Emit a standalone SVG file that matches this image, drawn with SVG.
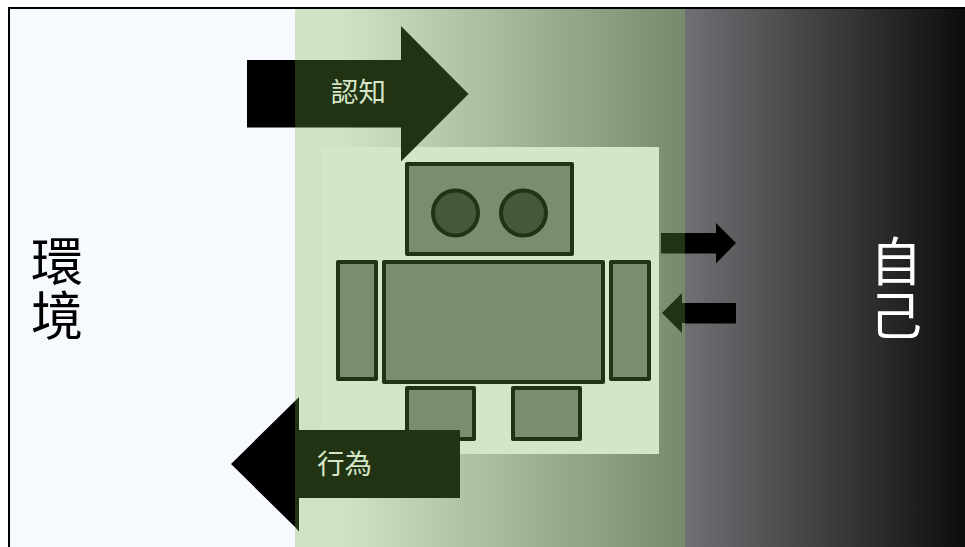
<svg xmlns="http://www.w3.org/2000/svg" width="965" height="547" viewBox="0 0 965 547">
<style>
.r{fill:#7a8d6e;stroke:#213313;stroke-width:4;stroke-linejoin:round}
.e{fill:#45583a;stroke:#213313;stroke-width:4}
.k{fill:#000}
.d{fill:#213313}
text{font-family:"Noto Sans CJK TC","Noto Sans CJK JP",sans-serif}
.a{font-size:27.500px;fill:#d5e6c8}
.b{font-size:52px;writing-mode:vertical-rl;letter-spacing:2px}
</style>
<defs>
<linearGradient id="g1" gradientUnits="userSpaceOnUse" x1="295" y1="0" x2="685" y2="0">
<stop offset="0" stop-color="#d1e3c6"/><stop offset=".12" stop-color="#d1e3c6"/><stop offset="1" stop-color="#778a6b"/>
</linearGradient>
<linearGradient id="g2" gradientUnits="userSpaceOnUse" x1="685" y1="0" x2="965" y2="0">
<stop offset="0" stop-color="#707074"/><stop offset="1" stop-color="#0d0d0d"/>
</linearGradient>
</defs>
<rect width="965" height="547" fill="#fff"/>
<g id="environment">
<rect x="9" y="8" width="286" height="539" fill="#f6faff"/>
<text class="b" x="57" y="235" fill="#000">環境</text>
</g>
<g id="agent-zone"><rect x="295" y="9" width="390" height="538" fill="url(#g1)"/></g>
<g id="self">
<rect x="685" y="9" width="280" height="538" fill="url(#g2)"/>
<text class="b" x="896" y="235" fill="#fff">自己</text>
</g>
<path id="frame" d="M9 547V8H965" fill="none" stroke="#000" stroke-width="2"/>
<g id="robot">
<rect x="322" y="147" width="337" height="307" fill="#d5e6c8"/>
<rect class="r" x="407" y="164" width="165" height="90"/>
<circle class="e" cx="455.500" cy="213" r="22.500"/>
<circle class="e" cx="523.500" cy="213" r="22.500"/>
<rect class="r" x="384" y="262" width="219" height="120"/>
<rect class="r" x="338" y="262" width="38" height="117"/>
<rect class="r" x="611" y="262" width="38" height="117"/>
<rect class="r" x="407" y="388" width="67" height="51"/>
<rect class="r" x="513" y="388" width="67" height="51"/>
</g>
<g id="connectors">
<g id="cognition">
<rect class="k" x="247" y="60" width="48" height="67.500"/>
<polygon class="d" points="295,60 401,60 401,26 468.500,94 401,161.500 401,127.500 295,127.500"/>
<text class="a" x="331" y="101.500">認知</text>
</g>
<g id="behavior">
<polygon class="k" points="295,401 295,527 231,464"/>
<polygon class="d" points="295,401 299,397 299,430 460,430 460,498 299,498 299,531.500 295,527"/>
<text class="a" x="317" y="474">行為</text>
</g>
<g id="out-arrow">
<rect class="d" x="661" y="233" width="24" height="20.500"/>
<polygon class="k" points="685,233 716,233 716,223 736,243 716,263.500 716,253.500 685,253.500"/>
</g>
<g id="in-arrow">
<polygon class="d" points="662,313 682,293 682,303 685,303 685,323 682,323 682,333"/>
<rect class="k" x="685" y="303" width="51" height="20.500"/>
</g>
</g>
</svg>
